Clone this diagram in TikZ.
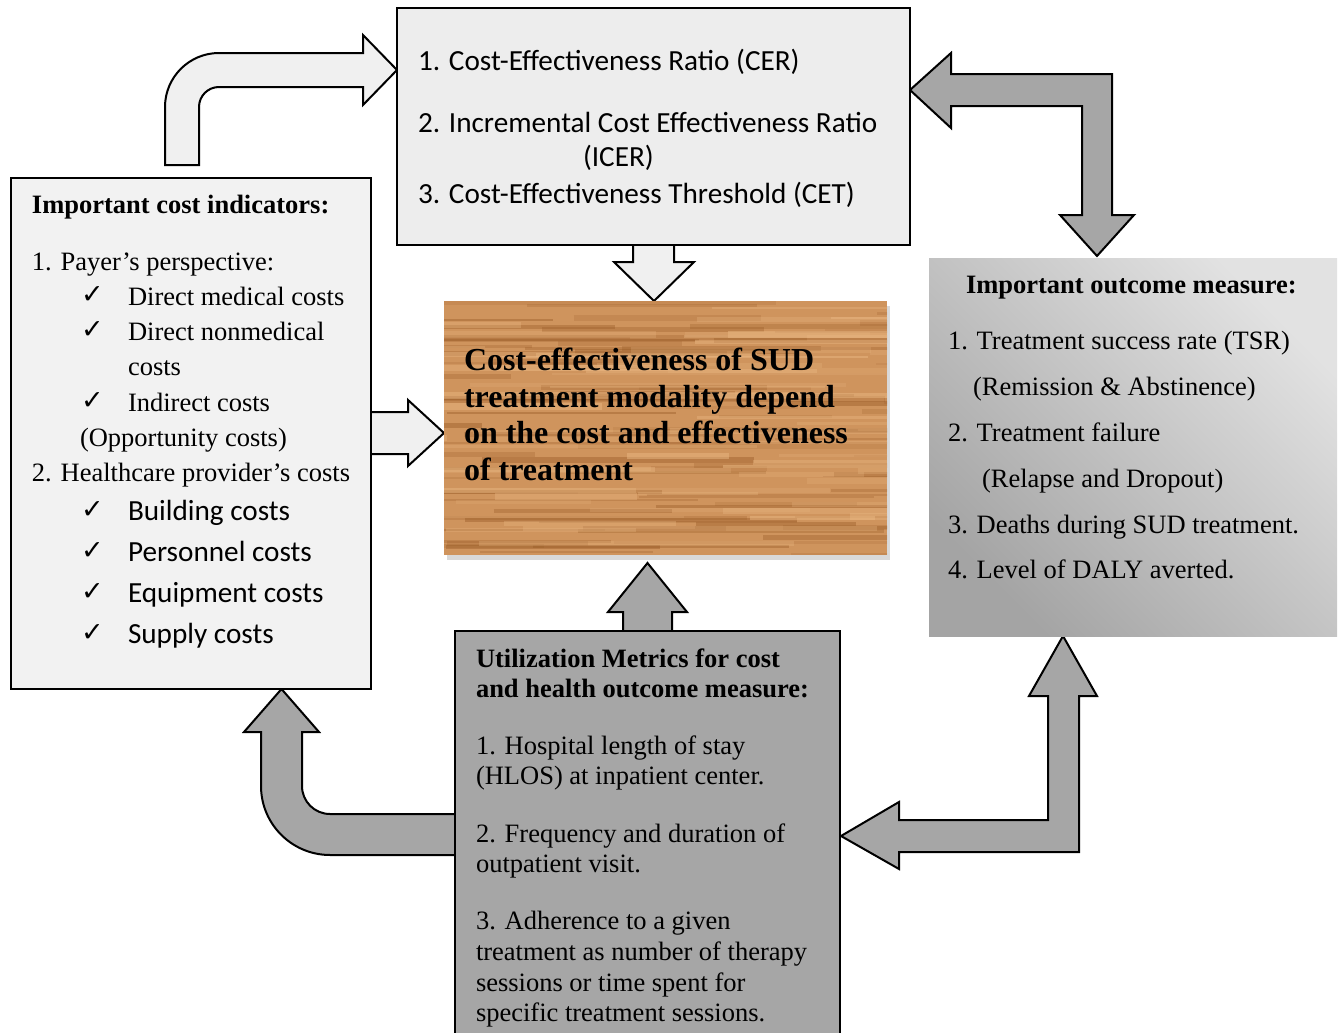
\documentclass[tikz,border=0pt]{standalone}
\usepackage{fontspec}
\setmainfont{Liberation Serif}
\newfontfamily\calibrifont{Carlito}
\newfontfamily\tickfont{DejaVu Sans}
\usepackage{tikz}
\usetikzlibrary{calc,shadows,backgrounds}

\definecolor{boxlight}{HTML}{F2F2F2}
\definecolor{cerfill}{HTML}{EDEDED}
\definecolor{arrowlight}{HTML}{F0F0F0}
\definecolor{boxgrey}{HTML}{A6A6A6}
\definecolor{outtop}{HTML}{E2E2E2}
\definecolor{outbot}{HTML}{A4A4A4}
\definecolor{woodbase}{HTML}{CF945D}
\definecolor{wooddark}{HTML}{985A26}
\definecolor{woodlight}{HTML}{EAB883}

\begin{document}
\begin{tikzpicture}[x=0.5pt, y=-0.5pt,
    every node/.style={inner sep=0pt, outer sep=0pt},
    box/.style={anchor=north west, draw, line width=1.25pt},
    txt/.style={anchor=base west, font=\fontsize{13.25pt}{16pt}\selectfont},
    btxt/.style={anchor=base west, font=\bfseries\fontsize{13.25pt}{16pt}\selectfont},
    ctxt/.style={anchor=base west, font=\calibrifont\fontsize{14.6pt}{18pt}\selectfont},
    wtxt/.style={anchor=base west, font=\bfseries\fontsize{16pt}{19pt}\selectfont},
    tick/.style={anchor=base west, font=\tickfont\fontsize{13.5pt}{15pt}\selectfont},
    larrow/.style={draw, line width=1pt, fill=arrowlight, line join=miter},
    garrow/.style={draw, line width=1pt, fill=boxgrey, line join=miter}]

  \useasboundingbox (0,0) rectangle (1341,1033);

  % boxes
  \node[box, fill=boxlight, minimum width=180pt, minimum height=255.5pt] (cost) at (11,178) {};
  \node[box, fill=cerfill, minimum width=256.5pt, minimum height=118.5pt] (cer) at (397,8) {};
  \node[anchor=north west, fill=woodbase, minimum width=221.5pt, minimum height=127pt,
        drop shadow={shadow xshift=1.5pt, shadow yshift=-2.5pt, opacity=0.3}] (wood) at (444,301) {};
  \node[anchor=north west, top color=outtop, bottom color=outbot, shading angle=-45,
        minimum width=204pt, minimum height=189pt] (outcome) at (929,258) {};
  \node[box, fill=boxgrey, minimum width=192.5pt, minimum height=215pt] (util) at (455,631) {};

  % wood grain
  \begin{scope}
    \clip (wood.north west) rectangle (wood.south east);
    \pgfmathsetseed{42}
    \foreach \k in {1,...,90}{
      \pgfmathsetmacro{\yy}{301+254*rnd}
      \pgfmathsetmacro{\xx}{300+587*rnd}
      \pgfmathsetmacro{\ll}{100+300*rnd}
      \pgfmathsetmacro{\ww}{0.8+2*rnd}
      \pgfmathsetmacro{\oo}{0.12+0.3*rnd}
      \draw[wooddark, line width=\ww pt, opacity=\oo] (\xx,\yy) -- ++(\ll,0);
    }
    \foreach \k in {1,...,60}{
      \pgfmathsetmacro{\yy}{301+254*rnd}
      \pgfmathsetmacro{\xx}{300+587*rnd}
      \pgfmathsetmacro{\ll}{100+300*rnd}
      \pgfmathsetmacro{\ww}{1+2.5*rnd}
      \pgfmathsetmacro{\oo}{0.2+0.3*rnd}
      \draw[woodlight, line width=\ww pt, opacity=\oo] (\xx,\yy) -- ++(\ll,0);
    }
  \end{scope}

  % block arrows
  \begin{scope}[on background layer]
    \draw[larrow] (165,165) -- (165,107) .. controls (165,77.2) and (189.2,53) .. (219,53)
      -- (363,53) -- (363,35) -- ($(cer.north west)+(0,62)$) -- (363,105) -- (363,87)
      -- (219,87) .. controls (207.95,87) and (199,95.95) .. (199,107) -- (199,165) -- cycle;
    \draw[garrow] ($(cer.north east)+(0,82)$) -- (951,53) -- (951,74) -- (1112,74) -- (1112,215)
      -- (1134,215) -- ($(outcome.north west)+(168,-2)$) -- (1060,215) -- (1082,215)
      -- (1082,106) -- (951,106) -- (951,128) -- cycle;
    \draw[larrow] (633,240) -- (633,262) -- (614,262) -- ($(wood.north west)+(210,0)$)
      -- (694,262) -- (674,262) -- (674,240) -- cycle;
    \draw[larrow] (366,412) -- (408,412) -- (408,400) -- ($(wood.north west)+(0,132)$)
      -- (408,466) -- (408,454) -- (366,454) -- cycle;
    \draw[garrow] (623,636) -- (623,612) -- (608,612) -- ($(wood.south west)+(203.5,8)$)
      -- (687,612) -- (672,612) -- (672,636) -- cycle;
    \draw[garrow] (460,814) -- (330,814) .. controls (314.5,814) and (302,801.5) .. (302,786)
      -- (302,732) -- (319,732) -- ($(cost.south west)+(270.5,0)$) -- (244,732) -- (261,732)
      -- (261,786) .. controls (261,824.1) and (291.9,855) .. (330,855) -- (460,855) -- cycle;
    \draw[garrow] ($(util.north east)+(1,205)$) -- (899,802) -- (899,820) -- (1048,820)
      -- (1048,696) -- (1029,696) -- ($(outcome.south west)+(134,0)$) -- (1097,696)
      -- (1079,696) -- (1079,852) -- (899,852) -- (899,869) -- cycle;
  \end{scope}

  % cost indicators
  \node[btxt] (costh) at (32,213) {Important cost indicators:};
  \node[txt] (pay) at (32,270) {1. Payer’s perspective:};
  \node[tick] (k1) at (81,303) {✓};
  \node[txt] (dmc) at (128,305) {Direct medical costs};
  \node[tick] (k2) at (81,338) {✓};
  \node[txt] (dnm) at (128,340) {Direct nonmedical};
  \node[txt] (dnm2) at (128,375) {costs};
  \node[tick] (k3) at (81,409) {✓};
  \node[txt] (ind) at (128,411) {Indirect costs};
  \node[txt] (opp) at (80,446) {(Opportunity costs)};
  \node[txt] (hcp) at (32,481) {2. Healthcare provider’s costs};
  \node[tick] (k4) at (81,518) {✓};
  \node[ctxt] (bld) at (128,520) {Building costs};
  \node[tick] (k5) at (81,559) {✓};
  \node[ctxt] (per) at (128,561) {Personnel costs};
  \node[tick] (k6) at (81,600) {✓};
  \node[ctxt] (eqp) at (128,602) {Equipment costs};
  \node[tick] (k7) at (81,641) {✓};
  \node[ctxt] (sup) at (128,643) {Supply costs};

  % ratios
  \node[ctxt] (cer1) at (418,70) {1. Cost-Effectiveness Ratio (CER)};
  \node[ctxt] (cer2) at (418,132) {2. Incremental Cost Effectiveness Ratio};
  \node[ctxt] (cer2b) at (583,166) {(ICER)};
  \node[ctxt] (cer3) at (418,203) {3. Cost-Effectiveness Threshold (CET)};

  % centre
  \node[wtxt] (w1) at (464,370) {Cost-effectiveness of SUD};
  \node[wtxt] (w2) at (464,407) {treatment modality depend};
  \node[wtxt] (w3) at (464,443) {on the cost and effectiveness};
  \node[wtxt] (w4) at (464,480) {of treatment};

  % outcome
  \node[btxt] (outh) at (966,293) {Important outcome measure:};
  \node[txt] (o1) at (948,349) {1. Treatment success rate (TSR)};
  \node[txt] (o1b) at (973,395) {(Remission \& Abstinence)};
  \node[txt] (o2) at (948,441) {2. Treatment failure};
  \node[txt] (o2b) at (982,487) {(Relapse and Dropout)};
  \node[txt] (o3) at (948,533) {3. Deaths during SUD treatment.};
  \node[txt] (o4) at (948,578) {4. Level of DALY averted.};

  % utilization
  \node[btxt] (uh1) at (476,667) {Utilization Metrics for cost};
  \node[btxt] (uh2) at (476,697) {and health outcome measure:};
  \node[txt] (u1) at (476,754) {1. Hospital length of stay};
  \node[txt] (u1b) at (476,784) {(HLOS) at inpatient center.};
  \node[txt] (u2) at (476,842) {2. Frequency and duration of};
  \node[txt] (u2b) at (476,872) {outpatient visit.};
  \node[txt] (u3) at (476,929) {3. Adherence to a given};
  \node[txt] (u3b) at (476,960) {treatment as number of therapy};
  \node[txt] (u3c) at (476,991) {sessions or time spent for};
  \node[txt] (u3d) at (476,1021) {specific treatment sessions.};
\end{tikzpicture}
\end{document}
